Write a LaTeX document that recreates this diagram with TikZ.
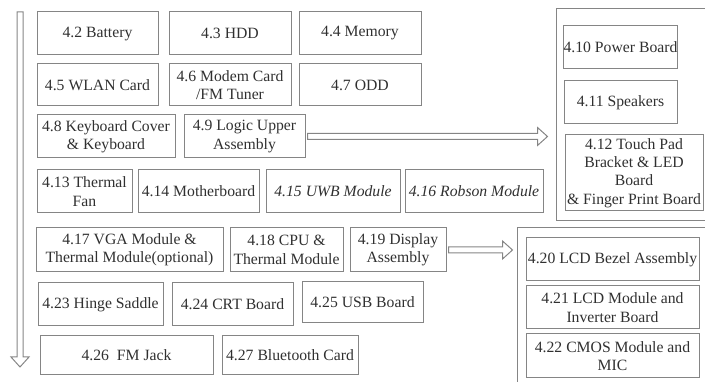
\documentclass[tikz,border=0pt]{standalone}
\usepackage{fontspec}
\setmainfont{Liberation Serif}
\definecolor{sgline}{HTML}{858585}
\definecolor{sgtext}{HTML}{303030}
\usetikzlibrary{calc,positioning}

\begin{document}
\begin{tikzpicture}[x=1pt,y=-1pt,
  part/.style={draw=sgline, line width=1pt, align=center, text=sgtext,
               inner sep=0pt, font=\fontsize{15.7}{18.3}\selectfont},
  group/.style={draw=sgline, line width=1pt, inner sep=0pt},
  flow/.style={draw=sgline, line width=1pt, line join=miter,
    to path={let \p1=(\tikztostart), \p2=(\tikztotarget),
                 \n1={atan2(\y2-\y1,\x2-\x1)}, \n2={veclen(\x2-\x1,\y2-\y1)} in
      {[shift={(\p1)}, rotate=\n1]
       (0,-3) -- (\n2-10,-3) -- (\n2-10,-9) -- (\n2,0) -- (\n2-10,9)
       -- (\n2-10,3) -- (0,3) -- cycle}}}
]
\useasboundingbox (0,0) rectangle (705,382);

%% disassembly order, left side
\node[part, minimum width=121pt, minimum height=43pt] (bat)   at (97.5,33.5) {4.2 Battery};
\node[part, minimum width=122pt, minimum height=43pt] (hdd)   at (230,33.5)  {4.3 HDD};
\node[part, minimum width=122pt, minimum height=43pt] (mem)   at (360,33.5)  {4.4 Memory};
\node[part, minimum width=121pt, minimum height=42pt] (wlan)  at (97.5,85)   {4.5 WLAN Card};
\node[part, minimum width=122pt, minimum height=42pt] (modem) at (230,85)    {4.6 Modem Card\\/FM Tuner};
\node[part, minimum width=122pt, minimum height=42pt] (odd)   at (360,85)    {4.7 ODD};
\node[part, minimum width=138pt, minimum height=43pt] (kbd)   at (106,136.5) {4.8 Keyboard Cover\\\& Keyboard};
\node[part, minimum width=121pt, minimum height=43pt] (logic) at (244.5,136.5) {4.9 Logic Upper\\Assembly};
\node[part, minimum width=95pt,  minimum height=43pt] (fan)   at (84.5,191.5) {4.13 Thermal\\Fan};
\node[part, minimum width=121pt, minimum height=43pt] (mb)    at (198.5,191.5) {4.14 Motherboard};
\node[part, minimum width=134pt, minimum height=43pt] (uwb)   at (333,191.5) {\itshape 4.15 UWB Module};
\node[part, minimum width=138pt, minimum height=43pt] (rob)   at (474,191.5) {\itshape 4.16 Robson Module};
\node[part, minimum width=187pt, minimum height=44pt] (vga)   at (129.5,250) {4.17 VGA Module \&\\Thermal Module(optional)};
\node[part, minimum width=113pt, minimum height=44pt] (cpu)   at (286.5,250) {4.18 CPU \&\\Thermal Module};
\node[part, minimum width=96pt,  minimum height=44pt] (disp)  at (398,250)   {4.19 Display\\Assembly};
\node[part, minimum width=125pt, minimum height=43pt] (hinge) at (100.5,304.5) {4.23 Hinge Saddle};
\node[part, minimum width=121pt, minimum height=43pt] (crt)   at (232.5,304.5) {4.24 CRT Board};
\node[part, minimum width=121pt, minimum height=41pt] (usb)   at (362.5,302.5) {4.25 USB Board};
\node[part, minimum width=173pt, minimum height=39pt] (fmj)   at (126.5,355.5) {4.26~~FM Jack};
\node[part, minimum width=136pt, minimum height=39pt] (bt)    at (290,355.5) {4.27 Bluetooth Card};

%% logic upper assembly group
\node[group, minimum width=164pt, minimum height=212pt] (upper) at (638,115) {};
\node[part, minimum width=113pt, minimum height=43pt] (power) at (620.5,47.5) {4.10 Power Board};
\node[part, minimum width=113pt, minimum height=43pt] (spk)   at (620.5,102.5) {4.11 Speakers};
\node[part, minimum width=138pt, minimum height=76pt] (touch) at (634,173) {4.12 Touch Pad\\Bracket \& LED\\Board\\\& Finger Print Board};

%% display assembly group
\node[group, minimum width=203pt, minimum height=172pt] (lcd) at (618.5,314) {};
\node[part, minimum width=173pt, minimum height=43pt] (bezel) at (612.5,259.5) {4.20 LCD Bezel Assembly};
\node[part, minimum width=173pt, minimum height=43pt] (panel) at (612.5,307.5) {4.21 LCD Module and\\Inverter Board};
\node[part, minimum width=173pt, minimum height=44pt] (cmos)  at (612.5,356) {4.22 CMOS Module and\\MIC};

%% arrows
\coordinate (start) at (20,12);
\coordinate (stop)  at (20,367);
\draw[flow] (start) to (stop);
\draw[flow] ([xshift=2pt]logic.east) to ([xshift=-8pt]logic.east -| upper.west);
\draw[flow] ([xshift=2pt]disp.east) to ([xshift=-4pt]disp.east -| lcd.west);

\end{tikzpicture}
\end{document}
